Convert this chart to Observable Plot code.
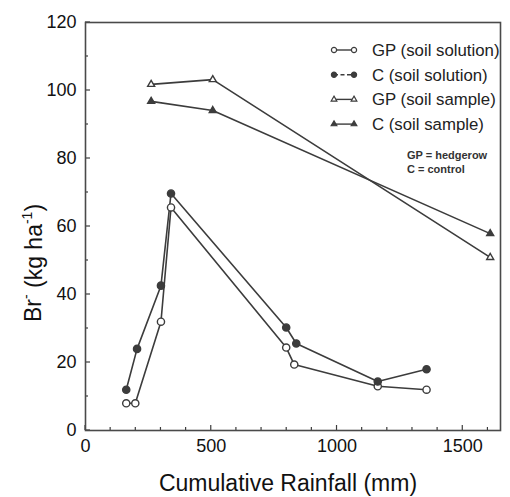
<!DOCTYPE html>
<html><head><meta charset="utf-8">
<script src="https://cdn.jsdelivr.net/npm/d3@7"></script>
<script src="https://cdn.jsdelivr.net/npm/@observablehq/plot@0.6"></script>
<style>
body{margin:0;background:#fff;font-family:"Liberation Sans",Arial,Helvetica,sans-serif}
#chart svg{display:block}
</style>
</head><body><div id="chart"></div>
<script>
// ---- data ----
const gpSolRain = [162, 198, 300, 340, 798, 830, 1162, 1356];
const gpSolBr   = [8, 8, 32, 65.6, 24.4, 19.4, 13, 12];
const cSolRain  = [162, 205, 300, 340, 798, 838, 1162, 1356];
const cSolBr    = [12, 24, 42.6, 69.7, 30.3, 25.6, 14.4, 18];
const gpSampRain = [261, 506, 1609];
const gpSampBr   = [101.8, 103.2, 50.9];
const cSampRain  = [261, 506, 1609];
const cSampBr    = [96.8, 94.1, 57.9];
const seriesNames = ["GP (soil solution)", "C (soil solution)", "GP (soil sample)", "C (soil sample)"];
const seriesSymbols = ["circle", "circle", "triangle", "triangle"];
const seriesFilled = [false, true, false, true];
const noteLines = ["GP = hedgerow", "C = control"];
const xTicks = [0, 500, 1000, 1500];
const xMinorTicks = [100,200,300,400,600,700,800,900,1100,1200,1300,1400,1600];
const yTicks = [0, 20, 40, 60, 80, 100, 120];
const yMinorTicks = [10, 30, 50, 70, 90, 110];
const xTitle = "Cumulative Rainfall (mm)";

// ---- tables built from the arrays ----
const toRows = (xs, ys, s) => xs.map((x, i) => ({rain: x, br: ys[i], series: s}));
const series = [
  toRows(gpSolRain, gpSolBr, 0),
  toRows(cSolRain, cSolBr, 1),
  toRows(gpSampRain, gpSampBr, 2),
  toRows(cSampRain, cSampBr, 3)
];

const ink = "#3c3c3c";
const font = '"Liberation Sans", Arial, Helvetica, sans-serif';

const lineMarks = series.map(rows => Plot.line(rows, {x: "rain", y: "br", stroke: ink, strokeWidth: 1.6}));
const dotMarks = series.map((rows, s) => Plot.dot(rows, {
  x: "rain", y: "br", symbol: seriesSymbols[s],
  r: seriesSymbols[s] === "circle" ? 3.6 : 2.6,
  fill: seriesFilled[s] ? ink : "white", stroke: ink, strokeWidth: 1.4
}));

// inward ticks drawn through the plot's own scales
function innerTicks(index, scales, values, dims) {
  const g = d3.create("svg:g").attr("stroke", ink).attr("stroke-width", 1.2);
  const bottom = dims.height - dims.marginBottom, left = dims.marginLeft;
  const tx = (vals, len) => vals.forEach(v => g.append("line")
    .attr("x1", scales.x(v)).attr("x2", scales.x(v)).attr("y1", bottom).attr("y2", bottom - len));
  const ty = (vals, len) => vals.forEach(v => g.append("line")
    .attr("y1", scales.y(v)).attr("y2", scales.y(v)).attr("x1", left).attr("x2", left + len));
  tx(xTicks, 5); tx(xMinorTicks, 3);
  ty(yTicks, 5); ty(yMinorTicks, 3);
  return g.node();
}

// legend + annotations + axis titles (custom render)
function overlay(index, scales, values, dims) {
  const g = d3.create("svg:g").attr("font-family", font).attr("text-anchor", "start");
  const x0 = 334, x1 = 354, tx = 372, y0 = 50, dy = 24.7;
  seriesNames.forEach((name, i) => {
    const y = y0 + i * dy;
    g.append("line").attr("x1", x0).attr("x2", x1).attr("y1", y).attr("y2", y)
      .attr("stroke", ink).attr("stroke-width", 1.4)
      .attr("stroke-dasharray", i === 1 ? "4,2.5" : null);
    const sym = seriesSymbols[i] === "circle"
      ? d3.symbol(d3.symbolCircle, Math.PI * 2.6 * 2.6)
      : d3.symbol(d3.symbolTriangle, Math.PI * 2.1 * 2.1);
    [x0, x1].forEach(px => g.append("path").attr("d", sym())
      .attr("transform", `translate(${px},${y})`)
      .attr("fill", seriesFilled[i] ? ink : "white").attr("stroke", ink).attr("stroke-width", 1.2));
    g.append("text").attr("x", tx).attr("y", y).attr("dy", "0.35em")
      .attr("font-size", 16.8).attr("fill", "#222").text(name);
  });
  noteLines.forEach((t, i) => {
    g.append("text").attr("x", 407).attr("y", 155 + i * 14).attr("dy", "0.35em")
      .attr("font-size", 11).attr("font-weight", "bold").attr("fill", "#333").text(t);
  });
  // x title
  g.append("text").attr("x", 288).attr("y", 483).attr("dy", "0.35em")
    .attr("text-anchor", "middle").attr("font-size", 23).attr("fill", "#111").text(xTitle);
  // y title with superscripts
  const yt = g.append("text").attr("transform", "translate(33,263) rotate(-90)")
    .attr("text-anchor", "middle").attr("dy", "0.35em").attr("font-size", 23).attr("fill", "#111");
  yt.append("tspan").text("Br");
  yt.append("tspan").attr("font-size", 14).attr("dy", "-0.7em").text("-");
  yt.append("tspan").attr("dy", "0.45em").text("\u00a0(kg ha");
  yt.append("tspan").attr("font-size", 14).attr("dy", "-0.7em").text("-1");
  yt.append("tspan").attr("dy", "0.45em").text(")");
  return g.node();
}

const chart = Plot.plot({
  width: 510, height: 497,
  marginLeft: 85, marginRight: 10, marginTop: 22, marginBottom: 67,
  style: {fontFamily: font, fontSize: "16px", color: "#111", background: "#fff"},
  x: {domain: [0, 1650]},
  y: {domain: [0, 120]},
  marks: [
    Plot.axisX({ticks: xTicks, tickSize: 0, tickPadding: 9, label: null, tickFormat: d3.format("d"), fontSize: 18, fill: "#111"}),
    Plot.axisY({ticks: yTicks, tickSize: 0, tickPadding: 9, label: null, tickFormat: d3.format("d"), fontSize: 18, fill: "#111"}),
    innerTicks,
    Plot.frame({stroke: "#4a4a4a", strokeWidth: 1.6}),
    ...lineMarks,
    ...dotMarks,
    overlay
  ]
});
document.getElementById("chart").append(chart);
</script>
</body></html>
